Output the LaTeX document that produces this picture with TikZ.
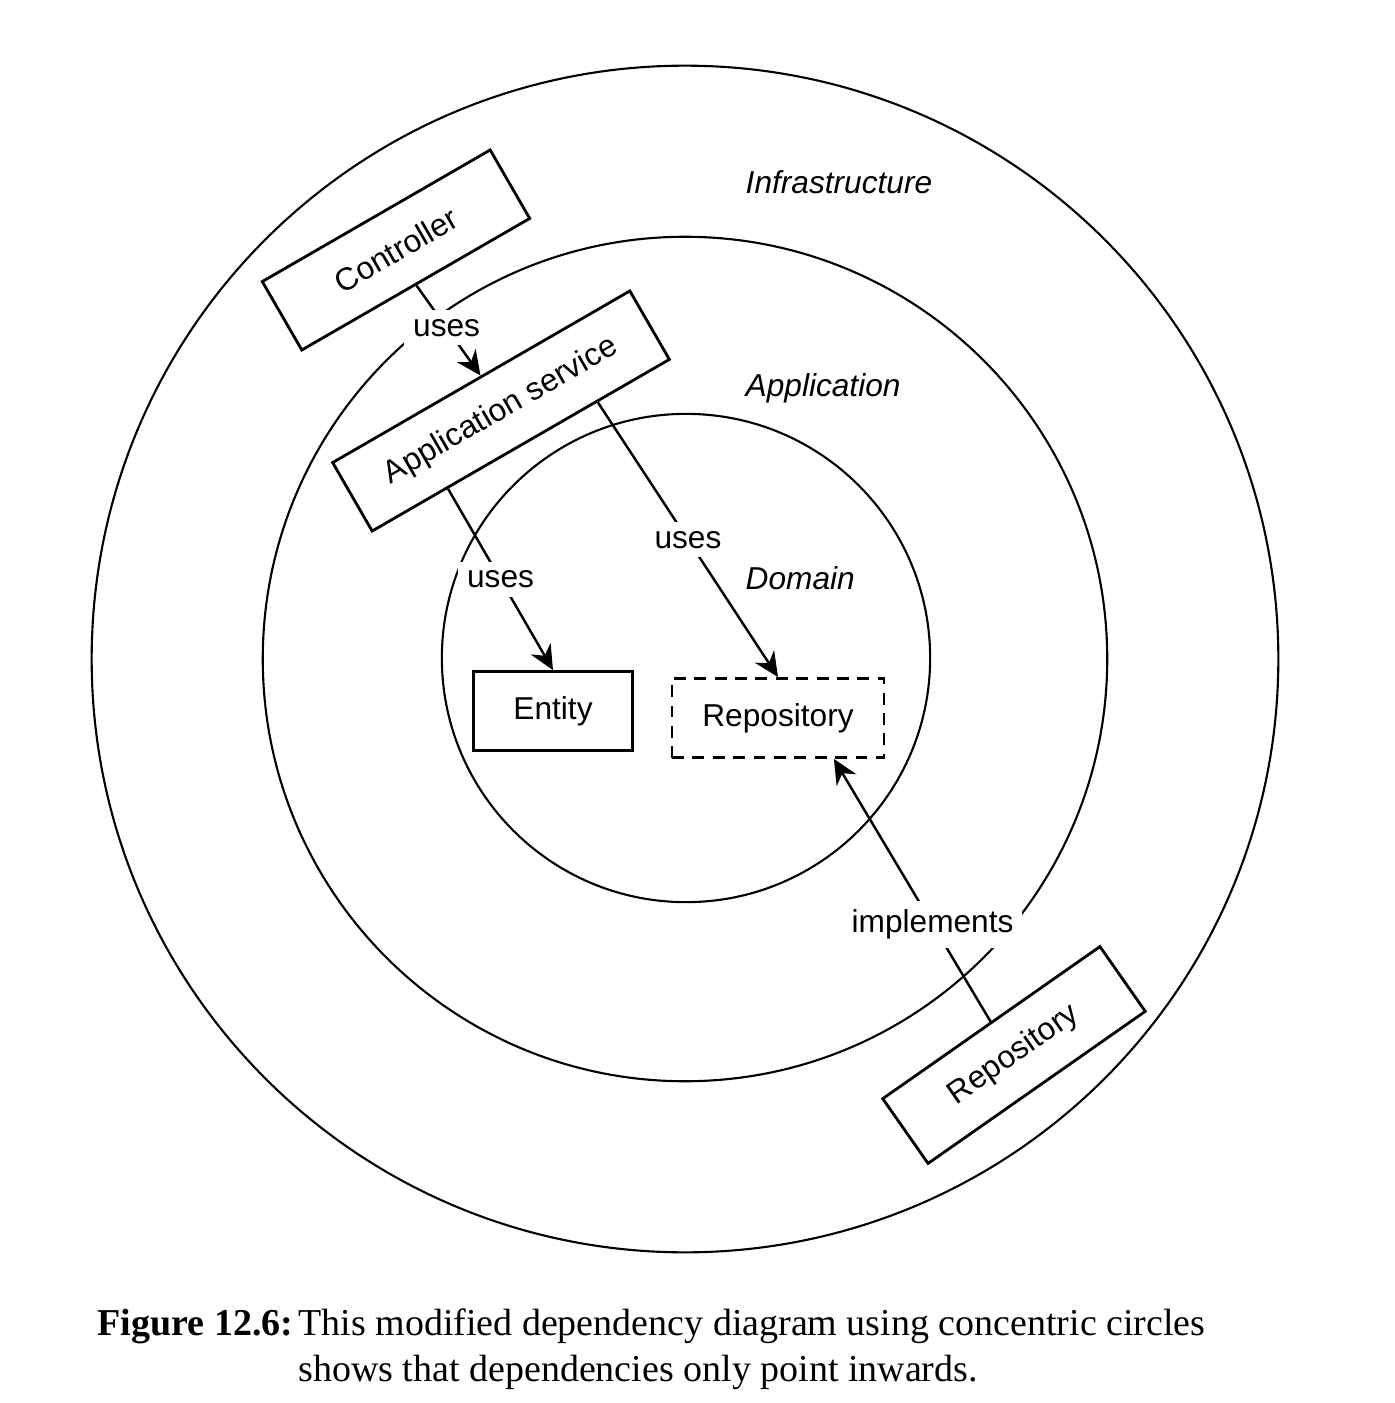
\documentclass[tikz,border=0pt]{standalone}
\usepackage{fontspec}
\setmainfont{Liberation Serif}
\setsansfont{Liberation Sans}
\usetikzlibrary{arrows.meta,calc}
\begin{document}
\begin{tikzpicture}
[x=0.01cm, y=-0.01cm,
 every node/.style={font=\sffamily\fontsize{9}{11}\selectfont},
 ring/.style={draw=black,line width=0.6pt},
 box/.style={rectangle,draw=black,line width=0.8pt,minimum height=7.9mm},
 lbl/.style={fill=white,inner sep=2.5pt},
 layer/.style={anchor=west,inner sep=0pt,font=\sffamily\itshape\fontsize{9}{11}\selectfont},
 dep/.style={-{Stealth[length=7pt,width=6.5pt]},line width=0.7pt}]
\useasboundingbox (0,0) rectangle (1395,1403);
% layers
\draw [ring] (685,659) circle [radius=5.93cm];
\draw [ring] (685,659) circle [radius=4.22cm];
\draw [ring] (686,658) circle [radius=2.44cm];
\node [layer] (infra) at (745,182) {Infrastructure};
\node [layer] (appl) at (745,388) {Application};
\node [layer] (dom) at (745,578) {Domain};
% components
\node [box, rotate=30, minimum width=2.63cm] (ctrl) at (396,250) {Controller};
\node [box, rotate=30, minimum width=3.43cm] (appsvc) at (501,411) {Application service};
\node [box, minimum width=1.59cm] (entity) at (553,711) {Entity};
\node [box, dashed, dash pattern=on 3.4pt off 2.4pt, minimum width=2.12cm] (repo) at (778,718) {Repository};
\node [box, rotate=35, minimum width=2.65cm] (repoimpl) at (1014,1055) {Repository};
% dependencies
\draw [dep] (ctrl.south) -- node [lbl, pos=0.47] {uses} (appsvc.north);
\draw [dep] ($(appsvc.south)!0.49!(appsvc.south west)$) -- node [lbl] {uses} (entity.north);
\draw [dep] ($(appsvc.south)!0.51!(appsvc.south east)$) -- node [lbl] {uses} (repo.north);
\draw [dep] (repoimpl.north) -- node [lbl, pos=0.37] {implements} ($(repo.south)!0.52!(repo.south east)$);
% caption
\node [anchor=north west, inner sep=0pt, font=\rmfamily\fontsize{10.8}{13}\selectfont] (caption) at (97,1303)
  {\begin{tabular}{@{}l@{\hspace{1.5pt}}l@{}}
   \textbf{Figure 12.6:} & This modified dependency diagram using concentric circles\\
   & shows that dependencies only point inwards.
   \end{tabular}};
\end{tikzpicture}
\end{document}
